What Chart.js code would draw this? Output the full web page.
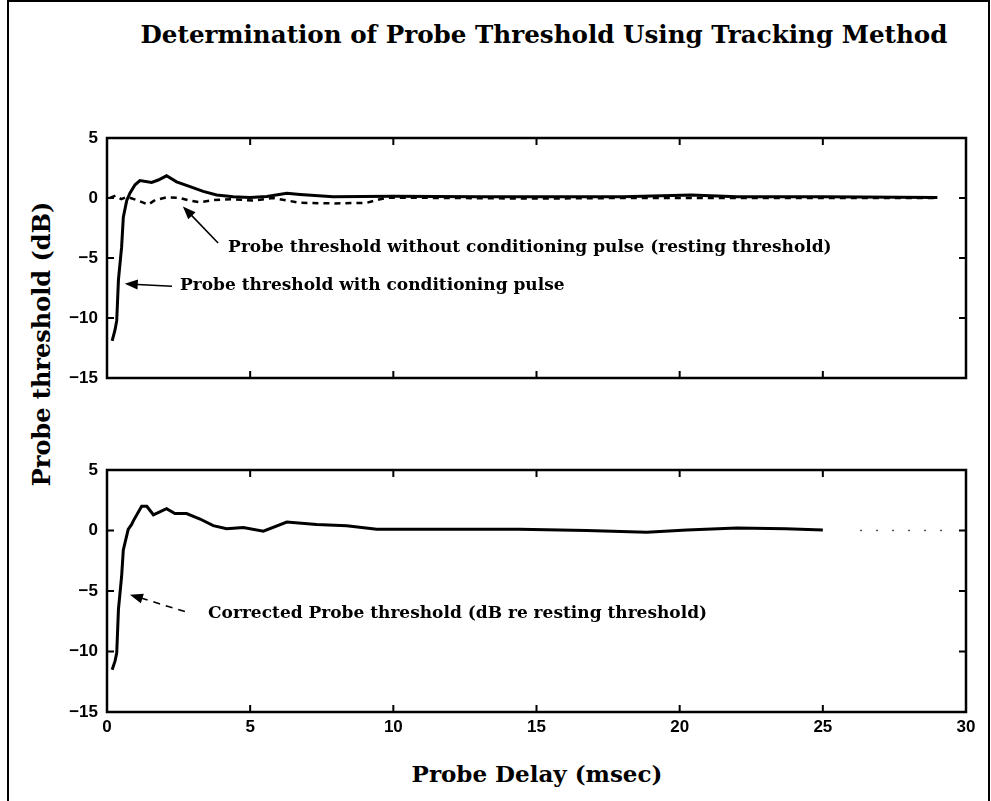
<!DOCTYPE html>
<html lang="en">
<head>
<meta charset="UTF-8">
<title>Determination of Probe Threshold Using Tracking Method</title>
<script src="https://cdn.jsdelivr.net/npm/chart.js"></script>
<style>
    body {
        margin: 0;
        background: #fff;
        width: 991px;
        height: 801px;
        overflow: hidden;
        position: relative;
        font-family: "DejaVu Serif", serif;
    }
    .frame {
        position: absolute;
        left: 7px;
        top: 0;
        width: 979px;
        height: 820px;
        border: 2px solid #000;
        border-bottom: none;
    }
    canvas {
        position: absolute;
        left: 0;
        top: 0;
    }
    .title {
        position: absolute;
        left: 0;
        width: 1088px;
        top: 20px;
        text-align: center;
        font-weight: bold;
        font-size: 24.6px;
    }
    .xlabel {
        position: absolute;
        left: 0;
        width: 1074px;
        top: 760px;
        text-align: center;
        font-weight: bold;
        font-size: 23px;
    }
    .ylabel {
        position: absolute;
        left: 41px;
        top: 344px;
        transform: translate(-50%, -50%) rotate(-90deg);
        white-space: nowrap;
        font-weight: bold;
        font-size: 24px;
    }
</style>
</head>
<body>
<div class="frame"></div>
<div class="title">Determination of Probe Threshold Using Tracking Method</div>
<div class="ylabel">Probe threshold (dB)</div>
<div class="xlabel">Probe Delay (msec)</div>
<canvas id="topChart" width="991" height="801"></canvas>
<canvas id="bottomChart" width="991" height="801"></canvas>

<script>
// probe delay (msec) / threshold (dB)
const withCondX = [0.18, 0.28, 0.34, 0.40, 0.51, 0.57, 0.69, 0.80, 0.98, 1.15, 1.56, 1.79, 2.08, 2.43, 2.90, 3.36, 3.83, 4.41, 4.99, 5.58, 6.28, 6.74, 7.90, 10, 13, 16, 18, 20.4, 22, 25, 29];
const withCondY = [-11.9, -11.0, -10.2, -6.8, -4.1, -1.6, -0.2, 0.4, 1.1, 1.45, 1.3, 1.5, 1.85, 1.35, 0.95, 0.55, 0.25, 0.1, 0.05, 0.12, 0.4, 0.3, 0.1, 0.15, 0.1, 0.1, 0.1, 0.25, 0.1, 0.1, 0.05];

const restingX = [0.1, 0.3, 0.5, 0.7, 1.04, 1.44, 1.68, 2.08, 2.55, 2.9, 3.25, 3.71, 4.41, 5.11, 5.8, 6.74, 7.9, 9.07, 9.54, 9.88, 12, 15, 18, 22, 26, 29];
const restingY = [0, 0.2, -0.1, 0.1, -0.17, -0.55, -0.17, 0.05, 0, -0.22, -0.36, -0.17, -0.1, -0.22, 0, -0.4, -0.45, -0.4, -0.1, 0.03, 0, -0.05, 0, 0, 0, 0];

const correctedX = [0.18, 0.28, 0.34, 0.40, 0.51, 0.57, 0.74, 0.86, 0.92, 1.21, 1.39, 1.62, 2.08, 2.37, 2.78, 3.25, 3.71, 4.18, 4.76, 5.46, 6.28, 7.32, 8.37, 9.42, 11.4, 14.4, 16.75, 18.85, 20.25, 22.0, 23.7, 25.0];
const correctedY = [-11.5, -10.8, -10.1, -6.5, -3.8, -1.6, 0.1, 0.5, 0.8, 2.0, 2.0, 1.3, 1.8, 1.4, 1.4, 0.95, 0.4, 0.15, 0.25, -0.05, 0.7, 0.5, 0.4, 0.1, 0.1, 0.1, 0, -0.15, 0.05, 0.2, 0.15, 0.05];

const tailX = [26.3, 29.5];
const tailY = [0, 0];

const xTicks = [0, 5, 10, 15, 20, 25, 30];
const yTicks = [-15, -10, -5, 0, 5];

const topNotes = [
    { text: "Probe threshold without conditioning pulse (resting threshold)", x: 4.23, y: -4.1, from: [3.88, -3.75], to: [2.65, -0.7], dash: [] },
    { text: "Probe threshold with conditioning pulse", x: 2.55, y: -7.3, from: [2.27, -7.35], to: [0.62, -7.15], dash: [] }
];
const bottomNotes = [
    { text: "Corrected Probe threshold (dB re resting threshold)", x: 3.53, y: -6.9, from: [2.72, -6.7], to: [0.8, -5.3], dash: [7, 6] }
];

const pts = (xs, ys) => xs.map((x, i) => ({ x: x, y: ys[i] }));
const tickFont = { family: "'Liberation Sans', Arial, sans-serif", size: 17, weight: "bold" };

// box around the plot area with inward ticks, like the old matlab plots
const boxPlugin = {
    id: "box",
    afterDraw(chart) {
        const ctx = chart.ctx;
        const a = chart.chartArea;
        const sx = chart.scales.x, sy = chart.scales.y;
        ctx.save();
        ctx.strokeStyle = "#000";
        ctx.lineWidth = 2.5;
        ctx.strokeRect(a.left, a.top, a.right - a.left, a.bottom - a.top);
        ctx.lineWidth = 2;
        ctx.beginPath();
        xTicks.forEach(v => {
            const px = sx.getPixelForValue(v);
            ctx.moveTo(px, a.bottom); ctx.lineTo(px, a.bottom - 7);
            ctx.moveTo(px, a.top); ctx.lineTo(px, a.top + 7);
        });
        yTicks.forEach(v => {
            const py = sy.getPixelForValue(v);
            ctx.moveTo(a.left, py); ctx.lineTo(a.left + 7, py);
            ctx.moveTo(a.right, py); ctx.lineTo(a.right - 7, py);
        });
        ctx.stroke();
        ctx.restore();
    }
};

function notesPlugin(notes) {
    return {
        id: "notes",
        afterDatasetsDraw(chart) {
            const ctx = chart.ctx;
            const sx = chart.scales.x, sy = chart.scales.y;
            ctx.save();
            ctx.fillStyle = "#000";
            ctx.strokeStyle = "#000";
            notes.forEach(n => {
                ctx.font = "bold 17px 'DejaVu Serif', serif";
                ctx.textBaseline = "middle";
                ctx.textAlign = "left";
                ctx.fillText(n.text, sx.getPixelForValue(n.x), sy.getPixelForValue(n.y));

                const x1 = sx.getPixelForValue(n.from[0]), y1 = sy.getPixelForValue(n.from[1]);
                const x2 = sx.getPixelForValue(n.to[0]), y2 = sy.getPixelForValue(n.to[1]);
                const ang = Math.atan2(y2 - y1, x2 - x1);
                ctx.lineWidth = 1.6;
                ctx.setLineDash(n.dash);
                ctx.beginPath();
                ctx.moveTo(x1, y1);
                ctx.lineTo(x2 - 8 * Math.cos(ang), y2 - 8 * Math.sin(ang));
                ctx.stroke();
                ctx.setLineDash([]);
                ctx.beginPath();
                ctx.moveTo(x2, y2);
                ctx.lineTo(x2 - 13 * Math.cos(ang) + 5 * Math.sin(ang), y2 - 13 * Math.sin(ang) - 5 * Math.cos(ang));
                ctx.lineTo(x2 - 13 * Math.cos(ang) - 5 * Math.sin(ang), y2 - 13 * Math.sin(ang) + 5 * Math.cos(ang));
                ctx.closePath();
                ctx.fill();
            });
            ctx.restore();
        }
    };
}

function makeOptions(padTop, padBottom, showX) {
    return {
        responsive: false,
        animation: false,
        layout: { padding: { left: 0, right: 25, top: padTop, bottom: padBottom } },
        plugins: { legend: { display: false }, tooltip: { enabled: false } },
        elements: { point: { radius: 0 }, line: { tension: 0 } },
        scales: {
            x: {
                type: "linear",
                min: 0, max: 30,
                display: showX,
                grid: { display: false, drawTicks: false },
                border: { display: false },
                ticks: { stepSize: 5, color: "#000", font: tickFont, padding: 5, maxRotation: 0 },
                afterFit: s => { s.height = showX ? 30 : 0; }
            },
            y: {
                min: -15, max: 5,
                grid: { display: false, drawTicks: false },
                border: { display: false },
                ticks: {
                    stepSize: 5, color: "#000", font: tickFont, padding: 9,
                    callback: v => String(v).replace("-", "\u2212")
                },
                afterFit: s => { s.width = 107; }
            }
        }
    };
}

new Chart(document.getElementById("topChart"), {
    type: "line",
    data: {
        datasets: [
            { data: pts(withCondX, withCondY), borderColor: "#000", borderWidth: 3 },
            { data: pts(restingX, restingY), borderColor: "#000", borderWidth: 2.5, borderDash: [6, 5] }
        ]
    },
    options: makeOptions(138, 801 - 378, false),
    plugins: [boxPlugin, notesPlugin(topNotes)]
});

new Chart(document.getElementById("bottomChart"), {
    type: "line",
    data: {
        datasets: [
            { data: pts(correctedX, correctedY), borderColor: "#000", borderWidth: 3 },
            { data: pts(tailX, tailY), borderColor: "#555", borderWidth: 1.5, borderDash: [2, 14] }
        ]
    },
    options: makeOptions(470, 801 - 742, true),
    plugins: [boxPlugin, notesPlugin(bottomNotes)]
});
</script>
</body>
</html>
